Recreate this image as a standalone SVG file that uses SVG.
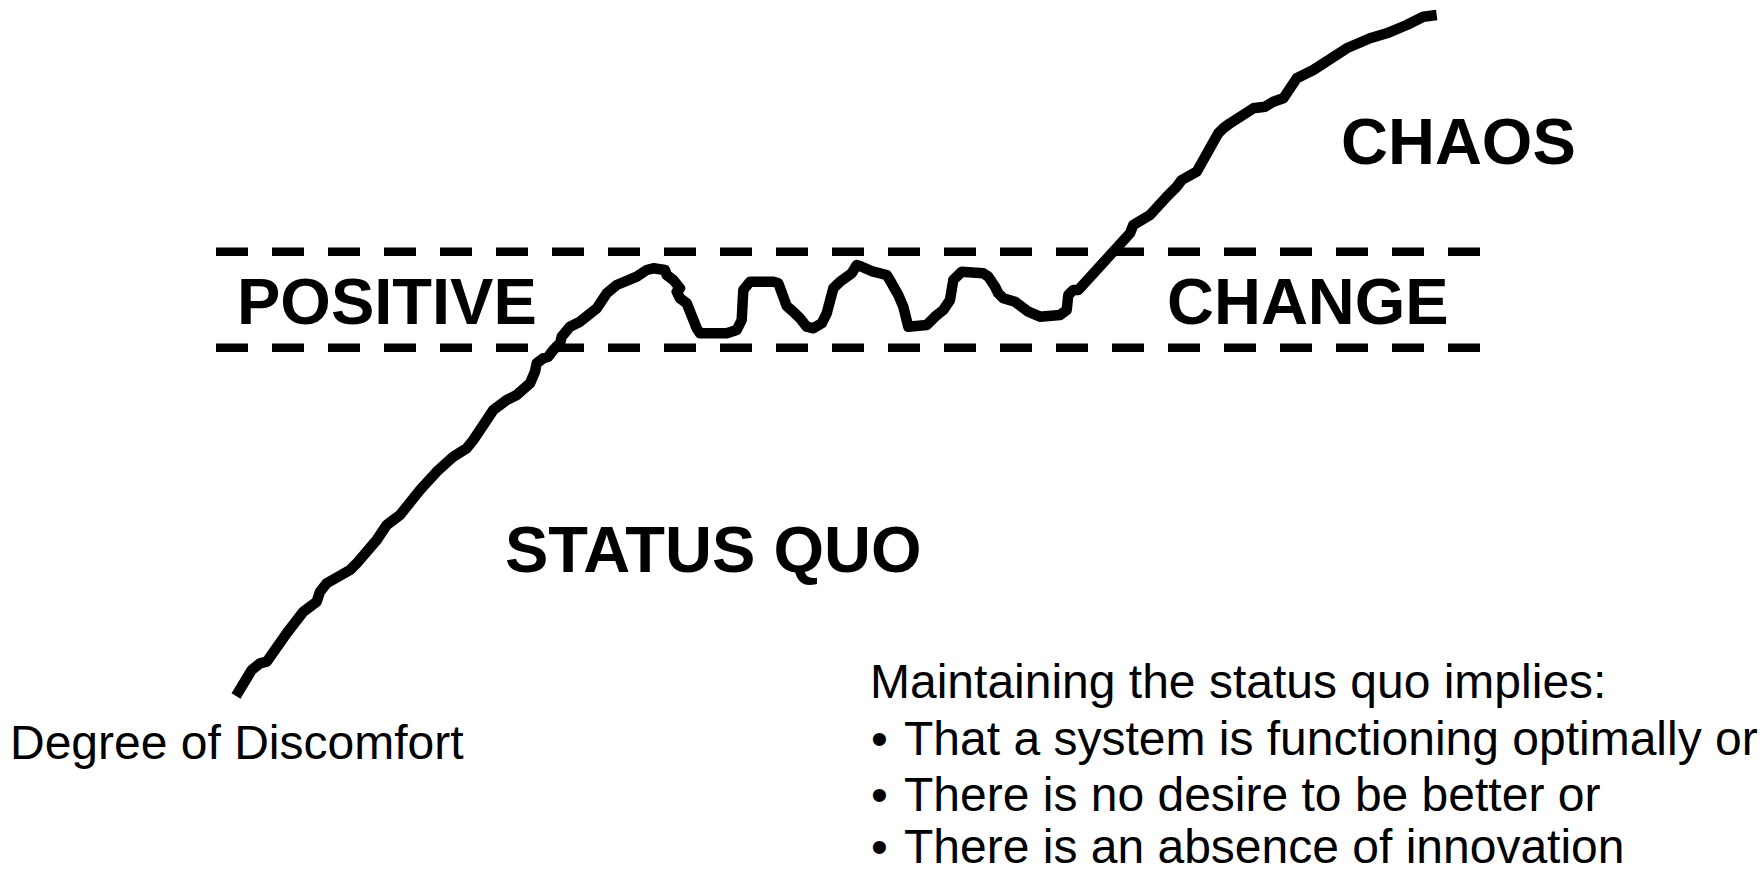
<svg xmlns="http://www.w3.org/2000/svg" width="1762" height="874" viewBox="0 0 1762 874">
  <style>
    .band { stroke: #000; stroke-width: 8.5; stroke-dasharray: 32 24; fill: none; }
    .curve { stroke: #000; stroke-width: 10.5; fill: none; stroke-linejoin: round; stroke-linecap: butt; }
    .big { font-family: "Liberation Sans", Arial, sans-serif; font-weight: bold; font-size: 65px; fill: #000; }
    .body { font-family: "Liberation Sans", Arial, sans-serif; font-size: 48px; fill: #000; }
  </style>
  <rect width="1762" height="874" fill="#fff"/>

  <!-- dashed band bounding the zone of positive change -->
  <g id="band">
    <line class="band" x1="216" y1="251.7" x2="1480" y2="251.7"/>
    <line class="band" x1="216" y1="347.7" x2="1480" y2="347.7"/>
  </g>

  <!-- rising line of discomfort -->
  <g id="connectors">
    <polyline class="curve" points="236,696 251.7,670 260,663.3 266.7,661.7 286.7,633.3 303.3,611.7 316.7,601.7 320,591.7 326.7,583.3 350,570 356.7,563.3 376.7,540 383.3,530 386.7,525 400,515 420,490 436.7,471.7 453.3,456.7 466.7,448.3 473.3,440 486.7,420 493.3,410 506.7,400 516.7,395 530,383.3 535,371.7 536.7,363.3 543.3,358.3 548.3,356.7 553.3,350 560,343.3 561.7,336.7 570,326.7 580,321.7 596.7,308.3 606.7,293.3 616.7,285 636.7,276.7 646.7,270 653.3,268.3 665,270 666.7,275 673.3,280 680,288.3 676.7,291.7 680,298.3 686.7,303.3 696.7,328.3 700,333.3 726.7,333.3 736.7,330 741.7,320 743.3,290 750,281.7 773.3,281.7 778.3,283.3 786.7,306 793.3,311.7 800,318.3 806.7,326.7 813.3,328.3 821.7,323.3 826.7,313.3 833.3,288.3 840,281.7 851.7,273.3 856.7,265 861.7,266.7 873.3,271.7 886.7,275 891.7,283.3 898.3,295 903.3,306.7 908.3,326.7 926.7,325 935,316.7 943.3,310 950,300 953.3,280 961.7,271.7 983.3,273.3 988.3,276.7 995,286.7 998.3,293.3 1003.3,298.3 1015,301.7 1028.3,311.7 1040,316.7 1060,315 1066.7,310 1068.3,295 1073.3,290 1078.3,290 1130,233.3 1133.3,225 1150,215 1166.7,196.7 1176.7,186.7 1181.7,180 1196.7,171.7 1218.3,133.3 1223.3,128.3 1230,123.3 1253.3,108.3 1265,106.7 1273.3,101.7 1283.3,98.3 1290,88.3 1296.7,78.3 1313.3,70 1346.7,48.3 1370,38.3 1386.7,33.3 1406.7,25 1423.3,16.7 1436.7,15"/>
  </g>

  <g id="chaos"><text class="big" x="1341" y="164">CHAOS</text></g>
  <g id="positive"><text class="big" x="237" y="324">POSITIVE</text></g>
  <g id="change"><text class="big" x="1167" y="324">CHANGE</text></g>
  <g id="status-quo"><text class="big" x="505" y="572">STATUS QUO</text></g>

  <g id="axis-label"><text class="body" x="10" y="759">Degree of Discomfort</text></g>

  <g id="notes">
    <text class="body" x="870" y="698">Maintaining the status quo implies:</text>
    <text class="body" x="871" y="755">•<tspan x="904">That a system is functioning optimally or</tspan></text>
    <text class="body" x="871" y="811">•<tspan x="904">There is no desire to be better or</tspan></text>
    <text class="body" x="871" y="863">•<tspan x="904">There is an absence of innovation</tspan></text>
  </g>
</svg>
